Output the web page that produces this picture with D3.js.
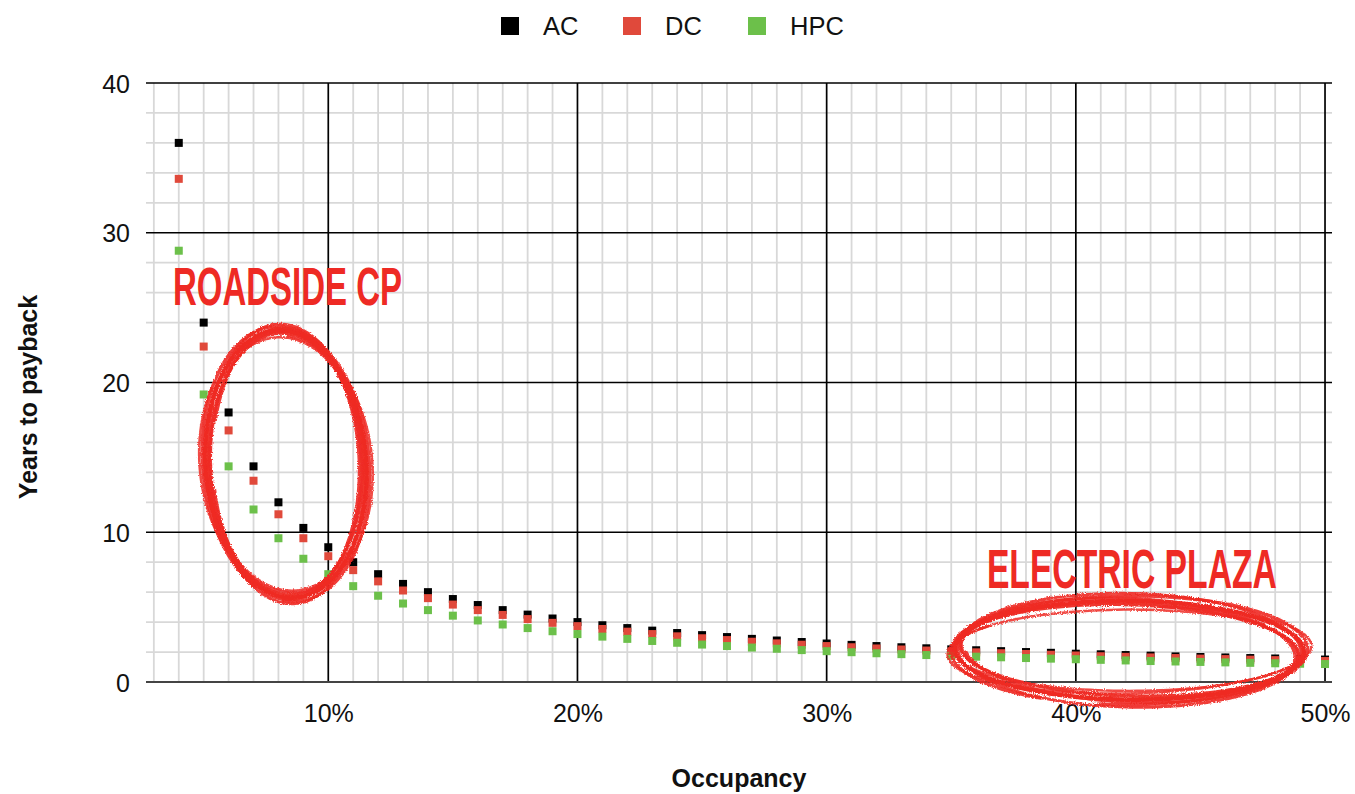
<!DOCTYPE html>
<html>
<head>
<meta charset="utf-8">
<script src="https://cdn.jsdelivr.net/npm/d3@7"></script>
<style>
  html, body { margin: 0; padding: 0; background: #fff; }
  svg { display: block; }
  text { font-family: "Liberation Sans", Arial, Helvetica, sans-serif; }
</style>
</head>
<body>
<svg id="chart" width="1355" height="794"></svg>
<script>
// ---------- data ----------
const occupancy = [4,5,6,7,8,9,10,11,12,13,14,15,16,17,18,19,20,21,22,23,24,25,26,27,28,29,30,31,32,33,34,35,36,37,38,39,40,41,42,43,44,45,46,47,48,49,50];
const acValues  = [36.00,24.00,18.00,14.40,12.00,10.29,9.00,8.00,7.20,6.55,6.00,5.54,5.14,4.80,4.50,4.24,4.00,3.79,3.60,3.43,3.27,3.13,3.00,2.88,2.77,2.67,2.57,2.48,2.40,2.32,2.25,2.18,2.12,2.06,2.00,1.95,1.89,1.85,1.80,1.76,1.71,1.67,1.64,1.60,1.57,1.53,1.50];
const dcValues  = [33.60,22.40,16.80,13.44,11.20,9.60,8.40,7.47,6.72,6.11,5.60,5.17,4.80,4.48,4.20,3.95,3.73,3.54,3.36,3.20,3.05,2.92,2.80,2.69,2.58,2.49,2.40,2.32,2.24,2.17,2.10,2.04,1.98,1.92,1.87,1.82,1.77,1.72,1.68,1.64,1.60,1.56,1.53,1.49,1.46,1.43,1.40];
const hpcValues = [28.80,19.20,14.40,11.52,9.60,8.23,7.20,6.40,5.76,5.24,4.80,4.43,4.11,3.84,3.60,3.39,3.20,3.03,2.88,2.74,2.62,2.50,2.40,2.30,2.22,2.13,2.06,1.99,1.92,1.86,1.80,1.75,1.69,1.65,1.60,1.56,1.52,1.48,1.44,1.40,1.37,1.34,1.31,1.28,1.25,1.22,1.20];
const seriesNames = ["AC", "DC", "HPC"];
const xTickValues = [10, 20, 30, 40, 50];
const xTickLabels = ["10%", "20%", "30%", "40%", "50%"];
const yTickValues = [0, 10, 20, 30, 40];
const yTickLabels = ["0", "10", "20", "30", "40"];
const annotationLabels = ["ROADSIDE CP", "ELECTRIC PLAZA"];

// ---------- styling / layout ----------
const colors = { AC: "#000000", DC: "#e0493b", HPC: "#6cc04a" };
const annoColor = "#ee2a24";
const margin = { left: 146, right: 1355 - 1332, top: 83, bottom: 794 - 682 };
const W = 1355, H = 794;

const svg = d3.select("#chart");
const x = d3.scaleLinear().domain([2.685, 50.28]).range([margin.left, W - margin.right]);
const y = d3.scaleLinear().domain([0, 40]).range([H - margin.bottom, margin.top]);

// ---------- grid ----------
const grid = svg.append("g");
const minorX = d3.range(3, 51, 1).filter(v => v % 10 !== 0);
const minorY = d3.range(2, 40, 2).filter(v => v % 10 !== 0);

grid.selectAll("line.mx").data(minorX).join("line")
  .attr("x1", d => x(d)).attr("x2", d => x(d))
  .attr("y1", y(40)).attr("y2", y(0))
  .attr("stroke", "#d8d8d8").attr("stroke-width", 1.8);
grid.selectAll("line.my").data(minorY).join("line")
  .attr("x1", x.range()[0]).attr("x2", x.range()[1])
  .attr("y1", d => y(d)).attr("y2", d => y(d))
  .attr("stroke", "#d8d8d8").attr("stroke-width", 1.8);
grid.selectAll("line.MX").data(xTickValues).join("line")
  .attr("x1", d => x(d)).attr("x2", d => x(d))
  .attr("y1", y(40)).attr("y2", y(0))
  .attr("stroke", "#000").attr("stroke-width", 1.7);
grid.selectAll("line.MY").data(yTickValues.filter(v => v > 0)).join("line")
  .attr("x1", x.range()[0]).attr("x2", x.range()[1])
  .attr("y1", d => y(d)).attr("y2", d => y(d))
  .attr("stroke", "#000").attr("stroke-width", 1.7);
grid.append("line")
  .attr("x1", x.range()[0]).attr("x2", x.range()[1])
  .attr("y1", y(0)).attr("y2", y(0))
  .attr("stroke", "#444").attr("stroke-width", 2.2);

// ---------- axes (labels via d3 axes) ----------
const xAxis = d3.axisBottom(x).tickValues(xTickValues)
  .tickFormat((d, i) => xTickLabels[i]).tickSize(0).tickPadding(0);
const gx = svg.append("g").attr("transform", `translate(0, ${y(0)})`).call(xAxis);
gx.select(".domain").remove();
gx.selectAll("text").attr("font-size", 25).attr("fill", "#111")
  .attr("font-family", "'Liberation Sans', Arial, sans-serif")
  .attr("y", 40).attr("dy", 0);

const yAxis = d3.axisLeft(y).tickValues(yTickValues)
  .tickFormat((d, i) => yTickLabels[i]).tickSize(0).tickPadding(0);
const gy = svg.append("g").attr("transform", `translate(${x.range()[0]}, 0)`).call(yAxis);
gy.select(".domain").remove();
gy.selectAll("text").attr("font-size", 25).attr("fill", "#111")
  .attr("font-family", "'Liberation Sans', Arial, sans-serif")
  .attr("x", -16).attr("dy", "0.36em");

svg.append("text").text("Occupancy")
  .attr("x", 739).attr("y", 787).attr("text-anchor", "middle")
  .attr("font-size", 25).attr("font-weight", "bold").attr("fill", "#111");
svg.append("text").text("Years to payback")
  .attr("transform", "translate(37, 397) rotate(-90)").attr("text-anchor", "middle")
  .attr("font-size", 25).attr("font-weight", "bold").attr("fill", "#111");

// ---------- points ----------
const seriesData = [acValues, dcValues, hpcValues];
const ms = 8;
seriesData.forEach((vals, si) => {
  const name = seriesNames[si];
  svg.append("g").selectAll("rect").data(occupancy.map((o, i) => ({ o, v: vals[i] })))
    .join("rect")
    .attr("x", d => x(d.o) - ms / 2).attr("y", d => y(d.v) - ms / 2)
    .attr("width", ms).attr("height", ms)
    .attr("fill", colors[name]);
});

// ---------- legend ----------
const legendX = [501, 623, 748];
const leg = svg.append("g");
seriesNames.forEach((name, i) => {
  leg.append("rect").attr("x", legendX[i]).attr("y", 17).attr("width", 18).attr("height", 18)
    .attr("fill", colors[name]);
  leg.append("text").text(name).attr("x", legendX[i] + 42).attr("y", 34.5)
    .attr("font-size", 25.5).attr("fill", "#111");
});

// ---------- annotations ----------
const defs = svg.append("defs");
const f = defs.append("filter").attr("id", "rough").attr("x", "-10%").attr("y", "-10%")
  .attr("width", "120%").attr("height", "120%");
f.append("feTurbulence").attr("type", "fractalNoise").attr("baseFrequency", 0.9)
  .attr("numOctaves", 2).attr("seed", 3).attr("result", "noise");
f.append("feDisplacementMap").attr("in", "SourceGraphic").attr("in2", "noise")
  .attr("scale", 3.5).attr("xChannelSelector", "R").attr("yChannelSelector", "G");

// ellipses defined in data coordinates: [cx(occ), cy(years), rx(occ), ry(years), rotationDeg]
const roadsideEllipse = [8.30, 14.56, 3.22, 8.95, -4];
const plazaEllipse = [42.15, 2.12, 7.0, 3.3, 0.6];
// loop variations: [dRx, dRy, dRot, strokeWidth, startAngleDeg, sweepDeg, opacity]
const loops = [
  [0, 0, 0, 4.5, 0, 360, 1],
  [-4, -3, 1.2, 3.5, 40, 360, 0.95],
  [3, 4, -1.0, 3.5, 120, 340, 0.9],
  [-7, 2, 2.0, 3, 200, 330, 0.9],
  [6, -5, -2.0, 2.5, 280, 300, 0.85],
  [-2, 6, 0.5, 3, 330, 380, 0.9],
  [1, -7, -0.6, 2.5, 10, 310, 0.85],
  [-5, -1, 1.5, 3, 150, 280, 0.85]
];
function drawScribble(params, scale) {
  const cx = x(params[0]), cy = y(params[1]);
  const rx = x(params[0] + params[2]) - cx;
  const ry = cy - y(params[1] + params[3]);
  const g = svg.append("g").attr("filter", "url(#rough)");
  loops.forEach(l => {
    const rX = rx + l[0] * scale, rY = ry + l[1] * scale;
    const rot = (params[4] + l[2]) * Math.PI / 180;
    const a0 = l[4] * Math.PI / 180, sweep = l[5] * Math.PI / 180;
    const pts = d3.range(0, 121).map(k => {
      const t = a0 + sweep * k / 120;
      const px = rX * Math.cos(t), py = rY * Math.sin(t);
      return [cx + px * Math.cos(rot) - py * Math.sin(rot), cy + px * Math.sin(rot) + py * Math.cos(rot)];
    });
    g.append("path").attr("d", d3.line().curve(d3.curveBasis)(pts))
      .attr("fill", "none").attr("stroke", annoColor).attr("stroke-width", l[3])
      .attr("stroke-linecap", "round").attr("opacity", l[6]);
  });
}
drawScribble(roadsideEllipse, 1);
drawScribble(plazaEllipse, 1.25);

// annotation labels: anchor [occupancy, years], width in px, font size
const annoAnchors = [[3.77, 25.18, 229, 53], [36.43, 6.28, 290, 56]];
annotationLabels.forEach((t, i) => {
  const a = annoAnchors[i];
  svg.append("text").text(t)
    .attr("x", x(a[0])).attr("y", y(a[1]))
    .attr("font-family", "'Liberation Sans Narrow', 'DejaVu Sans Condensed', 'Roboto Condensed', sans-serif")
    .attr("font-weight", "bold").attr("font-size", a[3])
    .attr("textLength", a[2]).attr("lengthAdjust", "spacingAndGlyphs")
    .attr("fill", annoColor);
});
</script>
</body>
</html>
